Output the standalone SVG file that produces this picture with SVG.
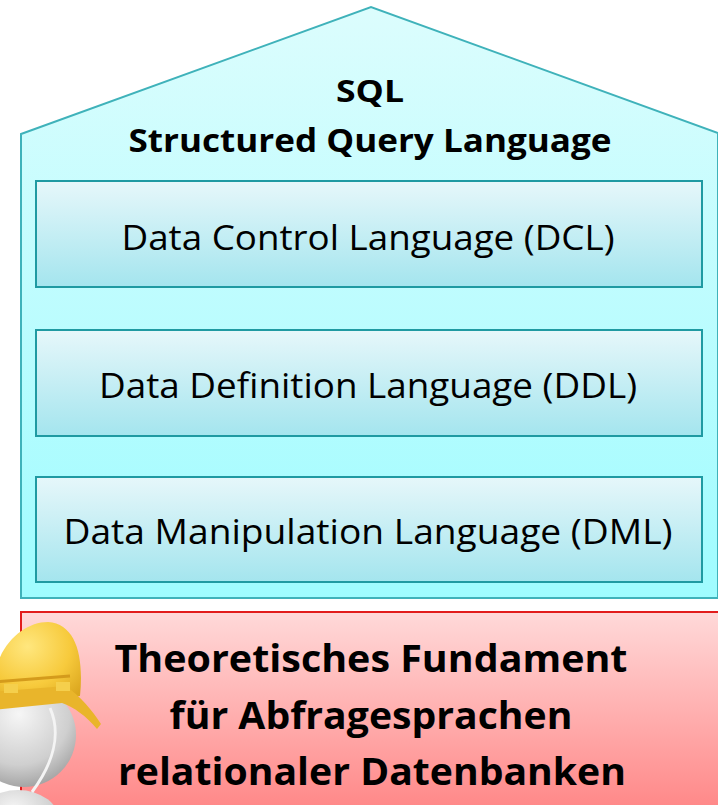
<svg xmlns="http://www.w3.org/2000/svg" width="718" height="805" viewBox="0 0 718 805">
  <defs>
    <linearGradient id="houseFill" x1="0" y1="0" x2="0" y2="1">
      <stop offset="0" stop-color="#dcfdfd"/>
      <stop offset="1" stop-color="#9ffcff"/>
    </linearGradient>
    <linearGradient id="layerFill" x1="0" y1="0" x2="0" y2="1">
      <stop offset="0" stop-color="#e6f7fa"/>
      <stop offset="1" stop-color="#a4e5ee"/>
    </linearGradient>
    <linearGradient id="baseFill" x1="0" y1="0" x2="0" y2="1">
      <stop offset="0" stop-color="#ffd9d9"/>
      <stop offset="1" stop-color="#ff8888"/>
    </linearGradient>
    <radialGradient id="headFill" cx="0.45" cy="0.3" r="0.75">
      <stop offset="0" stop-color="#f6f6f6"/>
      <stop offset="0.65" stop-color="#cfcfcf"/>
      <stop offset="1" stop-color="#9c9c9c"/>
    </radialGradient>
    <radialGradient id="helmetFill" cx="0.4" cy="0.3" r="0.8">
      <stop offset="0" stop-color="#ffe77e"/>
      <stop offset="0.6" stop-color="#f7ca3c"/>
      <stop offset="1" stop-color="#dba61e"/>
    </radialGradient>
  </defs>
  <style>
    .house { fill: url(#houseFill); stroke: #3fb2ba; stroke-width: 2; }
    .layer { fill: url(#layerFill); stroke: #1f9aa2; stroke-width: 2; }
    .base { fill: url(#baseFill); stroke: #e21c1c; stroke-width: 2; }
    .title { font-family: "Open Sans", "Liberation Sans", sans-serif; font-weight: bold; fill: #000; text-anchor: middle; }
    .label { font-family: "Open Sans", "Liberation Sans", sans-serif; fill: #000; text-anchor: middle; }
  </style>

  <!-- SQL house outline -->
  <g id="sql">
    <polygon class="house" points="21,134 371,7 718,133 718,598 21,598"/>
    <text class="title" x="370" y="102" font-size="31" textLength="68" lengthAdjust="spacingAndGlyphs">SQL</text>
    <text class="title" x="370" y="152" font-size="33" textLength="483" lengthAdjust="spacingAndGlyphs">Structured Query Language</text>
  </g>

  <!-- language layers -->
  <g id="dcl">
    <rect class="layer" x="36" y="181" width="666" height="106"/>
    <text class="label" x="368" y="250" font-size="34" textLength="493" lengthAdjust="spacingAndGlyphs">Data Control Language (DCL)</text>
  </g>
  <g id="ddl">
    <rect class="layer" x="36" y="330" width="666" height="106"/>
    <text class="label" x="368" y="398" font-size="34" textLength="538" lengthAdjust="spacingAndGlyphs">Data Definition Language (DDL)</text>
  </g>
  <g id="dml">
    <rect class="layer" x="36" y="477" width="666" height="105"/>
    <text class="label" x="368" y="544" font-size="34" textLength="609" lengthAdjust="spacingAndGlyphs">Data Manipulation Language (DML)</text>
  </g>

  <!-- foundation -->
  <g id="foundation">
    <rect class="base" x="21" y="612" width="699" height="196"/>
    <text class="title" x="371" y="672" font-size="38" textLength="513" lengthAdjust="spacingAndGlyphs">Theoretisches Fundament</text>
    <text class="title" x="371" y="729" font-size="38" textLength="403" lengthAdjust="spacingAndGlyphs">für Abfragesprachen</text>
    <text class="title" x="372" y="785" font-size="38" textLength="508" lengthAdjust="spacingAndGlyphs">relationaler Datenbanken</text>
  </g>

  <!-- construction worker figure: body, head, chin strap, helmet -->
  <g id="worker">
    <ellipse cx="18" cy="822" rx="42" ry="32" fill="url(#headFill)"/>
    <ellipse cx="24" cy="735" rx="52" ry="52" fill="url(#headFill)"/>
    <path d="M50,708 C62,735 52,765 32,792" fill="none" stroke="#f4f4f4" stroke-width="3"/>
    <path d="M-8,700 C-10,652 20,622 48,622 C76,624 84,656 80,696 L-8,704 Z" fill="url(#helmetFill)"/>
    <path d="M-8,692 L66,686 C80,696 92,710 101,724 L97,729 C86,716 74,707 62,703 L-8,710 Z" fill="#e9b52b"/>
    <path d="M-6,682 L70,676" stroke="#d49b1c" stroke-width="3" fill="none"/>
    <rect x="4" y="684" width="14" height="9" fill="#f5cf4c"/>
    <rect x="56" y="682" width="14" height="9" fill="#f5cf4c"/>
  </g>
</svg>
